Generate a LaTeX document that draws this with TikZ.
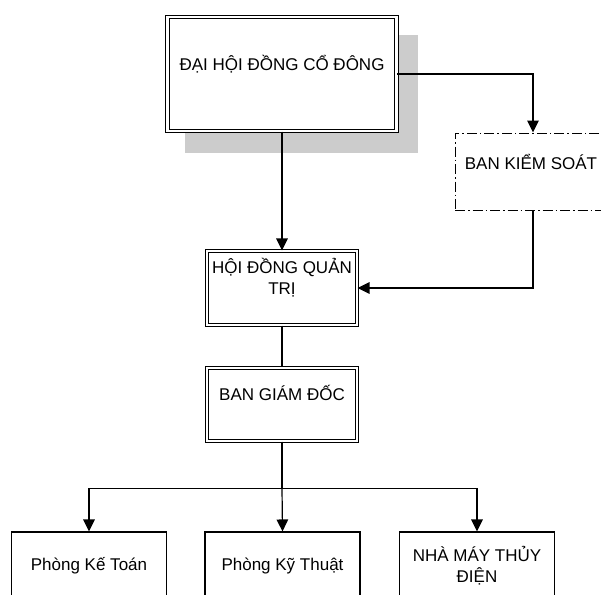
\documentclass[tikz,border=0pt]{standalone}
\usepackage{fontspec}
\setmainfont{Liberation Sans}
\usetikzlibrary{arrows.meta}
\definecolor{shadowgray}{RGB}{204,204,204}
\begin{document}
\begin{tikzpicture}[x=1pt,y=-1pt,
  dbox/.style={draw, line width=1.1pt, double=white, double distance=2.2pt,
    minimum width=150pt, minimum height=74pt, inner sep=0pt},
  sbox/.style={draw, line width=1.1pt, minimum width=155pt, minimum height=78pt, inner sep=0pt},
  dashbox/.style={draw, line width=1pt, dash pattern=on 10pt off 3pt on 1.5pt off 3pt,
    minimum width=156pt, minimum height=77pt, inner sep=0pt},
  shadowbox/.style={fill=shadowgray, minimum width=233pt, minimum height=118pt, inner sep=0pt},
  lbl/.style={font=\fontsize{17}{21}\selectfont, align=center, inner sep=0pt},
  con/.style={line width=1.2pt},
  arr/.style={line width=1.2pt, -{Triangle[length=12pt,width=11.5pt]}}]
\useasboundingbox (0,0) rectangle (601,594);
\clip (0,0) rectangle (601,594);
% top box with shadow
\node[shadowbox] (shadow) at (301.5,94) {};
\node[dbox, fill=white, minimum width=229pt, minimum height=114pt] (dhcd) at (282,74) {};
\node[lbl] (dhcdT) at (282,64) {ĐẠI HỘI ĐỒNG CỔ ĐÔNG};
% supervisory board
\node[dashbox] (bks) at (533,171.5) {};
\node[lbl] (bksT) at (531,162) {BAN KIỂM SOÁT};
% board of directors
\node[dbox] (hdqt) at (282,288) {};
\node[lbl] (hdqtT) at (282,278) {HỘI ĐỒNG QUẢN\\TRỊ};
% management
\node[dbox, minimum height=73pt] (bgd) at (282,404.5) {};
\node[lbl] (bgdT) at (282,393) {BAN GIÁM ĐỐC};
% bottom boxes
\node[sbox] (kt) at (89,571) {};
\node[lbl] (ktT) at (89,566) {Phòng Kế Toán};
\node[sbox] (kth) at (282.5,571) {};
\node[lbl] (kthT) at (282.5,566) {Phòng Kỹ Thuật};
\node[sbox] (nm) at (477,571) {};
\node[lbl] (nmT) at (477,566) {NHÀ MÁY THỦY\\ĐIỆN};
% connectors
\draw[arr] (dhcd.east) -| (bks.north);
\draw[arr] (dhcd.south) -- (hdqt.north);
\draw[arr] (bks.south) |- (hdqt.east);
\draw[con] (hdqt.south) -- (bgd.south |- bgd.north);
\draw[con] (bgd.south) -- ++(0,47) coordinate (br);
\draw[arr] (br) -| (kt.north);
\draw[arr] (br) -- (kth.north);
\draw[arr] (br) -| (nm.north);
\end{tikzpicture}
\end{document}
